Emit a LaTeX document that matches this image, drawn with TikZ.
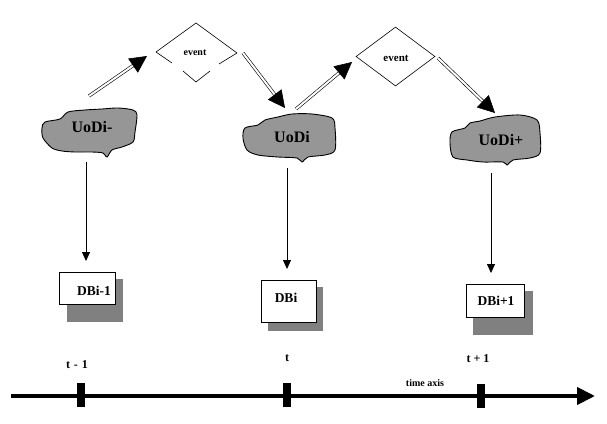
\documentclass[tikz,border=0pt]{standalone}
\usepackage{fontspec}
\setmainfont{Liberation Serif}
\usetikzlibrary{arrows.meta,shapes.geometric}
\definecolor{cloudgray}{RGB}{150,150,150}
\definecolor{shadowgray}{RGB}{128,128,128}
\tikzset{
  cloudshape/.style={fill=cloudgray, draw=black, line width=0.9pt},
  cloudtext/.style={font=\bfseries\fontsize{16}{16}\selectfont, inner sep=0pt},
  eventtext/.style={font=\bfseries\fontsize{10}{10}\selectfont, inner sep=0pt},
  dbtext/.style={font=\bfseries\fontsize{13.5}{13.5}\selectfont, inner sep=0pt},
  timetext/.style={font=\bfseries\fontsize{12}{12}\selectfont, inner sep=0pt},
  dbbox/.style={draw=black, fill=white, line width=0.9pt, inner sep=0pt},
  shadowrect/.style={fill=shadowgray, draw=none},
  diamondline/.style={draw=black, line width=0.6pt},
  eventarrow/.style={double=white, double distance=2pt, line width=0.6pt, -{Triangle[length=17pt,width=17pt]}},
  downarrow/.style={line width=0.8pt, -{Triangle[length=9pt,width=8pt]}},
  axisline/.style={line width=4pt, -{Triangle[length=18pt,width=17pt]}},
  axistick/.style={fill=black, draw=none, minimum width=8pt, minimum height=24pt, inner sep=0pt},
}
\begin{document}
\begin{tikzpicture}[x=1pt,y=-1pt]
\useasboundingbox (0,0) rectangle (607,423);

% clouds
\draw[cloudshape] plot[smooth cycle, tension=0.5] coordinates {(45,122) (60,119) (68,112) (85,110) (102,109) (118,108) (133,110) (137,115) (135,132) (133,142) (122,147) (112,150) (107,157) (103,153) (92,152) (75,152) (62,151) (52,148) (43,138) (42,128)};
\draw[cloudshape] plot[smooth cycle, tension=0.5] coordinates {(245,128) (258,125) (265,120) (278,117) (292,114) (312,114) (332,118) (335,128) (335,150) (325,155) (308,157) (302,162) (297,158) (278,157) (258,155) (247,150) (243,138)};
\draw[cloudshape] plot[smooth cycle, tension=0.5] coordinates {(452,132) (465,128) (470,123) (480,121) (495,117) (520,115) (537,120) (540,133) (540,153) (530,158) (513,160) (507,165) (503,162) (483,162) (467,160) (453,157) (450,143)};
\node[cloudtext] (u1) at (92,127) {UoDi-};
\node[cloudtext] (u2) at (292,137) {UoDi};
\node[cloudtext] (u3) at (501,140) {UoDi+};

% diamond 1 (with gaps)
\coordinate (d1t) at (196,23);
\coordinate (d1l) at (156,52);
\coordinate (d1r) at (237,53);
\draw[diamondline] (d1l) -- (d1t) -- (d1r);
\draw[diamondline] (d1l) -- (172,63);
\draw[diamondline] (183,71) -- (196,82) -- (210,71);
\draw[diamondline] (d1r) -- (219,64);
\node[eventtext] (e1) at (195,53) {event};

% diamond 2
\node[diamond, draw=black, line width=0.6pt, minimum width=79pt, minimum height=59pt, inner sep=0pt, aspect=1.34] (d2) at (395.5,56.5) {};
\node[eventtext, font=\bfseries\fontsize{11}{11}\selectfont] (e2) at (396,58) {event};

% event arrows
\coordinate (a1s) at (89,96);   \coordinate (a1e) at (147,56);
\coordinate (a2s) at (243,53);  \coordinate (a2e) at (285,108);
\coordinate (a3s) at (296,109); \coordinate (a3e) at (352,62);
\coordinate (a4s) at (438,58);  \coordinate (a4e) at (495,113);
\draw[eventarrow] (a1s) -- (a1e);
\draw[eventarrow] (a2s) -- (a2e);
\draw[eventarrow] (a3s) -- (a3e);
\draw[eventarrow] (a4s) -- (a4e);

% DB boxes
\fill[shadowrect] (67,279) rectangle (123,322);
\fill[shadowrect] (268,287) rectangle (323,331);
\fill[shadowrect] (473,291) rectangle (533,335);
\node[dbbox, minimum width=56pt, minimum height=32pt] (db1) at (87,288) {};
\node[dbbox, minimum width=55pt, minimum height=42pt] (db2) at (288.5,301) {};
\node[dbbox, minimum width=58pt, minimum height=33pt] (db3) at (495,300.5) {};
\node[dbtext] (t1) at (94,290.5) {DBi-1};
\node[dbtext] (t2) at (286,298) {DBi};
\node[dbtext] (t3) at (496,301) {DBi+1};

% down arrows
\coordinate (v1s) at (86,162); \coordinate (v1e) at (86,261);
\coordinate (v2s) at (287,168); \coordinate (v2e) at (287,269);
\coordinate (v3s) at (491,173); \coordinate (v3e) at (491,273);
\draw[downarrow] (v1s) -- (v1e);
\draw[downarrow] (v2s) -- (v2e);
\draw[downarrow] (v3s) -- (v3e);

% time axis
\coordinate (ax0) at (11,396);
\coordinate (ax1) at (595,396);
\draw[axisline] (ax0) -- (ax1);
\node[axistick] (k1) at (81,395) {};
\node[axistick] (k2) at (287,395) {};
\node[axistick] (k3) at (481,396) {};
\node[timetext] (l1) at (77,365) {t\,\,-\,\,1};
\node[timetext] (l2) at (287,358) {t};
\node[timetext] (l3) at (478,359) {t + 1};
\node[timetext, font=\bfseries\fontsize{10}{10}\selectfont] (l4) at (425,383) {time axis};
\end{tikzpicture}
\end{document}
